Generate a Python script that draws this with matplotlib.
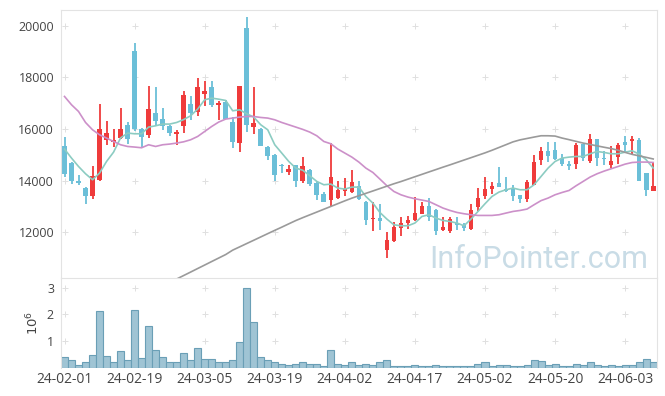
import numpy as np
import matplotlib.pyplot as plt

plt.rcParams['font.family'] = ['Open Sans', 'DejaVu Sans']

# trading days (KRX) 2024-02-01 .. 2024-06-10
dates = ('24-02-01 24-02-02 24-02-05 24-02-06 24-02-07 24-02-08 24-02-13 24-02-14 24-02-15 24-02-16 '
         '24-02-19 24-02-20 24-02-21 24-02-22 24-02-23 24-02-26 24-02-27 24-02-28 24-02-29 24-03-04 '
         '24-03-05 24-03-06 24-03-07 24-03-08 24-03-11 24-03-12 24-03-13 24-03-14 24-03-15 24-03-18 '
         '24-03-19 24-03-20 24-03-21 24-03-22 24-03-25 24-03-26 24-03-27 24-03-28 24-03-29 24-04-01 '
         '24-04-02 24-04-03 24-04-04 24-04-05 24-04-08 24-04-09 24-04-11 24-04-12 24-04-15 24-04-16 '
         '24-04-17 24-04-18 24-04-19 24-04-22 24-04-23 24-04-24 24-04-25 24-04-26 24-04-29 24-04-30 '
         '24-05-02 24-05-03 24-05-07 24-05-08 24-05-09 24-05-10 24-05-13 24-05-14 24-05-16 24-05-17 '
         '24-05-20 24-05-21 24-05-22 24-05-23 24-05-24 24-05-27 24-05-28 24-05-29 24-05-30 24-05-31 '
         '24-06-03 24-06-04 24-06-05 24-06-07 24-06-10').split()

open_ = [15320, 14690, 14000, 13720, 13420, 14030, 15570, 15500, 15630, 16150,
         19020, 16000, 15750, 16620, 16390, 16130, 15810, 16130, 16970, 16650,
         17350, 17620, 16910, 17050, 16280, 15470, 19910, 16060, 16000, 15310,
         15000, 14610, 14350, 14610, 13970, 14420, 13920, 13490, 13260, 13310,
         13580, 13540, 13800, 13180, 12500, 12570, 11300, 11680, 12150, 12340,
         12460, 12720, 13030, 12870, 12070, 12030, 12360, 12300, 12140, 12990,
         13410, 13670, 13900, 13680, 13730, 13450, 13300, 13840, 14810, 15150,
         15190, 14890, 14650, 14640, 15420, 14740, 15620, 14840, 14590, 14930,
         15510, 15550, 15580, 14310, 13610]
high = [15670, 14700, 14210, 13740, 14570, 16960, 16300, 15990, 16790, 16280,
        19320, 16050, 17660, 17620, 16800, 16160, 15970, 17450, 17280, 17970,
        17860, 17870, 17060, 17100, 16460, 17670, 20310, 17620, 16020, 15330,
        15030, 14650, 14610, 14620, 14930, 14440, 13930, 13560, 15450, 13990,
        14100, 14420, 13970, 13200, 13190, 13090, 12010, 12400, 12610, 12630,
        13360, 13160, 13320, 12890, 12590, 12590, 12590, 12360, 13080, 13710,
        14120, 13930, 14510, 14120, 13810, 13460, 14030, 15000, 15280, 15490,
        15510, 15020, 14770, 15450, 15420, 15800, 15620, 15150, 15320, 15450,
        15730, 15730, 15640, 14310, 14720]
low = [14140, 13880, 13840, 13090, 13290, 14000, 15360, 15310, 15600, 15420,
       15900, 15300, 15660, 16160, 15970, 15730, 15360, 15840, 16360, 16510,
       16870, 16840, 16360, 16390, 15260, 15100, 15890, 15800, 15330, 14800,
       14000, 14280, 14200, 13760, 13900, 13800, 13260, 13180, 13030, 13290,
       13390, 13520, 13260, 12280, 12040, 12070, 11000, 11620, 11870, 12120,
       12440, 12700, 12420, 11900, 12050, 11990, 12070, 12060, 12100, 12810,
       13300, 13490, 13760, 13570, 13220, 13130, 13190, 13820, 14610, 14720,
       14790, 14550, 14420, 14460, 14770, 14680, 14550, 14590, 14480, 14640,
       15060, 15020, 14000, 13420, 13580]
close = [14260, 14000, 13890, 13420, 14190, 16000, 15850, 15580, 16000, 15590,
         15980, 15670, 16780, 16290, 16130, 15850, 15890, 17320, 16600, 17630,
         17450, 16910, 17000, 16390, 15490, 17670, 16160, 16240, 15350, 14970,
         14200, 14550, 14460, 13970, 14570, 13880, 13450, 13190, 14140, 13620,
         13680, 13950, 13270, 12460, 12570, 12420, 11710, 12190, 12370, 12490,
         12760, 13030, 12610, 12030, 12190, 12530, 12300, 12160, 12860, 13320,
         13670, 13800, 13770, 13610, 13420, 13280, 13940, 14720, 15130, 14970,
         14830, 14640, 14550, 15390, 14870, 15620, 14890, 14820, 14740, 15360,
         15390, 15580, 14000, 13650, 13800]

# volume, millions
volume = [0.41, 0.30, 0.11, 0.19, 0.48, 2.11, 0.44, 0.19, 0.63, 0.27,
          2.15, 0.37, 1.56, 0.67, 0.41, 0.19, 0.19, 0.56, 0.30, 0.74,
          0.33, 0.33, 0.22, 0.19, 0.30, 0.96, 3.00, 1.70, 0.41, 0.27,
          0.22, 0.15, 0.11, 0.15, 0.19, 0.15, 0.15, 0.07, 0.67, 0.15,
          0.11, 0.22, 0.11, 0.15, 0.11, 0.19, 0.30, 0.07, 0.07, 0.07,
          0.11, 0.04, 0.07, 0.11, 0.07, 0.04, 0.07, 0.04, 0.07, 0.15,
          0.19, 0.07, 0.11, 0.11, 0.04, 0.07, 0.11, 0.30, 0.26, 0.11,
          0.15, 0.07, 0.04, 0.15, 0.11, 0.19, 0.11, 0.07, 0.11, 0.07,
          0.11, 0.11, 0.22, 0.33, 0.22]

ma5 = [15220, 14870, 14546, 14264, 14032, 14290, 14740, 15100, 15650, 15838,
       15811, 15811, 16070, 16120, 16186, 16186, 16248, 16360, 16507, 16766,
       17127, 17190, 17150, 17100, 16700, 16740, 16584, 16457, 16160, 15965,
       15386, 15064, 14740, 14483, 14400, 14187, 13967, 13838, 13864, 13710,
       13670, 13748, 13748, 13386, 13130, 12767, 12510, 12290, 12252, 12252,
       12357, 12612, 12678, 12550, 12457, 12418, 12357, 12252, 12510, 12806,
       13103, 13386, 13556, 13645, 13710, 13645, 13645, 13838, 14160, 14483,
       14740, 14870, 14908, 14933, 14933, 15037, 15126, 15088, 15037, 15037,
       15100, 15153, 15024, 14805, 14483]
ma20 = [17255, 16933, 16674, 16248, 15965, 15772, 15644, 15513, 15386, 15320,
        15297, 15270, 15386, 15320, 15386, 15412, 15451, 15500, 15579, 15707,
        15900, 16093, 16264, 16380, 16418, 16457, 16480, 16480, 16442, 16418,
        16352, 16248, 16159, 16070, 15980, 15876, 15733, 15513, 15424, 15219,
        15064, 14909, 14716, 14483, 14314, 14059, 13800, 13579, 13451, 13362,
        13297, 13245, 13192, 13065, 12937, 12844, 12767, 12717, 12678, 12651,
        12651, 12651, 12678, 12743, 12806, 12844, 12898, 13065, 13225, 13323,
        13451, 13540, 13618, 13800, 13967, 14136, 14264, 14367, 14457, 14546,
        14637, 14700, 14716, 14716, 14700]
ma60 = [None] * 16 + [
    10191, 10326, 10461, 10597, 10732, 10868, 11003, 11138, 11309, 11436,
    11564, 11691, 11819, 11947, 12074, 12198, 12326, 12453, 12566, 12674,
    12782, 12891, 12999, 13107, 13216, 13320, 13413, 13506, 13598, 13691,
    13784, 13877, 13962, 14055, 14148, 14241, 14334, 14426, 14519, 14608,
    14701, 14794, 14886, 14979, 15072, 15173, 15281, 15389, 15498, 15575,
    15629, 15683, 15734, 15734, 15722, 15645, 15583, 15517, 15451, 15397,
    15343, 15289, 15239, 15173, 15091, 15014, 14956, 14898, 14836]

UP = '#ef3b3b'
DOWN = '#6bbfd8'
SPINE = '#e3e3e3'
GRID = '#e0e0e0'
TXT = '#444444'

o = np.array(open_, float)
c = np.array(close, float)
x = np.arange(len(dates))
up = c >= o
colors = np.where(up, UP, DOWN)

fig = plt.figure(figsize=(6.65, 3.96), dpi=100)
ax = fig.add_axes([61 / 665, 1 - 277.5 / 396, 595.7 / 665, 267.5 / 396])
axv = fig.add_axes([61 / 665, 1 - 367.5 / 396, 595.7 / 665, 90 / 396], sharex=ax)

# candles
ax.vlines(x, low, high, colors=colors, lw=1.3, zorder=2)
body = np.maximum(np.abs(c - o), 55)
ax.bar(x, body, bottom=np.minimum(o, c), width=0.66, color=colors, zorder=2.5)

# moving averages
ax.plot(x, ma5, color='#8cccc2', lw=1.2, zorder=3)
ax.plot(x, ma20, color='#cc90c9', lw=1.2, zorder=3)
ax.plot(x, np.array(ma60, dtype=float), color='#9a9a9a', lw=1.2, zorder=3)

ax.text(0.985, 0.036, 'InfoPointer.com', transform=ax.transAxes, ha='right', va='baseline',
        fontsize=22, family='Roboto', color='#c9dce6', zorder=1)

# volume
axv.bar(x, volume, width=1.0, color='#9fc4d4', edgecolor='#6a9fb6', lw=0.8, zorder=2)

xt = np.arange(0, len(dates), 10)
ax.set_xlim(-0.5, len(dates) - 0.5)
ax.set_ylim(10250, 20600)
yt = [12000, 14000, 16000, 18000, 20000]
ax.set_yticks(yt)
ax.set_yticklabels([str(v) for v in yt])
axv.set_ylim(0, 3.38)
vt = [1, 2, 3]
axv.set_yticks(vt)
axv.set_yticklabels([str(v) for v in vt])
axv.set_xticks(xt)
axv.set_xticklabels([dates[i] for i in xt])
axv.set_ylabel('$10^6$', color=TXT, fontsize=9.5, labelpad=4)

# plus-shaped grid marks
for a, ys in ((ax, yt), (axv, vt)):
    gx, gy = np.meshgrid(xt, ys)
    a.plot(gx.ravel(), gy.ravel(), ls='none', marker='+', ms=4.5, mew=0.7, color=GRID, zorder=0.5)
    for s in a.spines.values():
        s.set_color(SPINE)
    a.tick_params(length=0, labelsize=9, colors=TXT, pad=5)
axv.spines['bottom'].set_visible(False)
ax.spines['bottom'].set_visible(False)
ax.tick_params(axis='x', labelbottom=False)
axv.tick_params(axis='x', pad=3, labelsize=10)

fig.savefig('out.png', dpi=100)
